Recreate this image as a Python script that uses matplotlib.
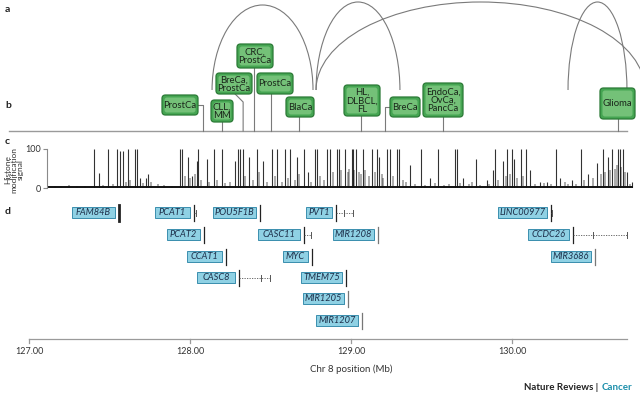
import matplotlib
matplotlib.use('Agg')
import matplotlib.pyplot as plt
from matplotlib.patches import FancyBboxPatch, Rectangle, Arc

plt.rcParams['font.family'] = ['Lato', 'DejaVu Sans']

# ---- data ----
# b: risk loci on chr 8 (Mb) and the cancers linked to them
locus_pos = [128.08, 128.20, 128.33, 128.40, 128.50, 128.68, 129.06, 129.21, 129.57, 130.66]
locus_label = ['ProstCa', 'CLL,\nMM', 'BreCa,\nProstCa', 'CRC,\nProstCa', 'ProstCa', 'BlaCa',
               'HL,\nDLBCL,\nFL', 'BreCa', 'EndoCa,\nOvCa,\nPancCa', 'Glioma']

# a: long range interactions (start, end in Mb)
loop_start = [128.137, 128.783, 128.783, 130.348]
loop_end = [128.764, 129.304, 130.826, 130.714]

# c: histone modification signal, main peaks (Mb, signal)
peak_pos = [127.404, 127.435, 127.491, 127.547, 127.565, 127.584, 127.615, 127.658, 127.671,
            127.689, 127.727, 127.739, 127.938, 127.950, 127.988, 128.012, 128.043, 128.050,
            128.106, 128.149, 128.199, 128.280, 128.298, 128.311, 128.329, 128.366, 128.416,
            128.453, 128.509, 128.540, 128.590, 128.621, 128.665, 128.708, 128.733, 128.776,
            128.789, 128.851, 128.870, 128.913, 128.925, 128.963, 129.006, 129.012, 129.031,
            129.075, 129.130, 129.161, 129.174, 129.224, 129.242, 129.286, 129.298, 129.366,
            129.435, 129.491, 129.540, 129.646, 129.658, 129.696, 129.776, 129.845, 129.882,
            129.894, 129.944, 129.969, 130.000, 130.012, 130.056, 130.087, 130.112, 130.174,
            130.217, 130.273, 130.298, 130.373, 130.429, 130.472, 130.528, 130.565, 130.596,
            130.621, 130.658, 130.671, 130.689, 130.714, 130.745]
peak_val = [100, 38, 100, 100, 95, 95, 100, 100, 100,
            25, 25, 35, 100, 100, 80, 30, 70, 100,
            75, 100, 100, 70, 100, 100, 100, 80, 100,
            70, 100, 100, 100, 100, 80, 100, 40, 100,
            100, 100, 100, 100, 100, 100, 100, 100, 100,
            100, 100, 100, 80, 100, 100, 100, 100, 60,
            100, 25, 100, 100, 100, 25, 75, 20, 45,
            100, 70, 100, 100, 75, 100, 100, 45, 15,
            15, 100, 25, 20, 100, 35, 65, 100, 80,
            100, 100, 100, 100, 40, 15]
# c: smaller peaks / background
minor_pos = [127.16, 127.20, 127.25, 127.30, 127.35, 127.46, 127.52, 127.60, 127.63, 127.71,
             127.76, 127.80, 127.84, 127.89, 127.97, 128.00, 128.03, 128.07, 128.12, 128.17,
             128.22, 128.25, 128.34, 128.39, 128.43, 128.48, 128.53, 128.57, 128.61, 128.65,
             128.68, 128.75, 128.81, 128.83, 128.89, 128.94, 128.98, 128.99, 129.02, 129.05,
             129.06, 129.09, 129.11, 129.15, 129.19, 129.20, 129.26, 129.32, 129.34, 129.40,
             129.46, 129.52, 129.58, 129.61, 129.68, 129.73, 129.75, 129.80, 129.86, 129.91,
             129.96, 129.99, 130.03, 130.07, 130.14, 130.20, 130.24, 130.33, 130.35, 130.40,
             130.45, 130.50, 130.55, 130.58, 130.61, 130.64, 130.65, 130.68, 130.70, 130.73]
minor_val = [6, 5, 7, 5, 6, 8, 10, 15, 20, 12,
             15, 10, 8, 6, 30, 25, 35, 20, 15, 20,
             12, 15, 30, 20, 40, 15, 30, 15, 25, 20,
             35, 15, 30, 20, 40, 45, 40, 50, 45, 40,
             35, 45, 30, 40, 35, 25, 30, 20, 15, 10,
             8, 12, 8, 10, 12, 10, 15, 8, 10, 20,
             30, 35, 25, 30, 10, 12, 10, 15, 10, 10,
             20, 25, 35, 40, 45, 50, 60, 55, 40, 10]

# d: genes (name, start, end in Mb, internal exon marks)
gene_name = ['FAM84B', 'PCAT1', 'POU5F1B', 'PVT1', 'PCAT2', 'CASC11', 'MIR1208', 'CCAT1',
             'MYC', 'CASC8', 'TMEM75', 'MIR1205', 'MIR1207', 'LINC00977', 'CCDC26', 'MIR3686']
gene_start = [127.559, 128.025, 128.435, 128.907, 128.087, 128.708, 129.168, 128.224,
              128.758, 128.304, 128.969, 128.981, 129.068, 130.242, 130.379, 130.516]
gene_end = [127.559, 128.040, 128.435, 129.012, 128.087, 128.752, 129.168, 128.224,
            128.758, 128.497, 128.969, 128.981, 129.068, 130.246, 130.714, 130.516]
gene_exons = [[], [], [], [128.955], [], [], [], [], [], [128.441], [], [], [], [], [130.503], []]

xticks = [127.0, 128.0, 129.0, 130.0]

# ---- layout (pixels) ----
W, H = 640, 395
PX = 1 / 161.0
X0 = 127.0 - 29 * PX
X1 = X0 + W * PX


def px2mb(p):
    return X0 + p * PX


box_rect = [(162, 95, 36, 20), (211, 100, 22, 22), (216, 73, 36, 21), (237, 44, 36, 24),
            (257, 73, 36, 21), (286, 97, 28, 20), (344, 85, 36, 31), (390, 97, 30, 20),
            (423, 83, 40, 34), (600, 88, 35, 31)]
base_y = 131
gene_row = [0, 0, 0, 0, 1, 1, 1, 2, 2, 3, 3, 4, 5, 0, 1, 2]
gene_box_w = [43, 35, 43, 26, 33, 42, 41, 35, 25, 38, 41, 41, 42, 49, 41, 40]
row_top = [207, 229, 251, 272, 293, 315]
row_h = 11

fig = plt.figure(figsize=(6.4, 3.95), dpi=100)
ax = fig.add_axes([0, 0, 1, 1])
ax.set_xlim(X0, X1)
ax.set_ylim(H, 0)
ax.axis('off')

line_c = '#7a7a7a'

# panel letters
for lab, y in zip('abcd', [9, 105, 141, 212]):
    ax.text(px2mb(5), y, lab, fontsize=7.5, fontweight='bold', va='center', color='#222222')

# a: arcs
for s, e, top in zip(loop_start, loop_end, [5, 2, 2, 2]):
    ax.add_patch(Arc(((s + e) / 2, 90), e - s, 2 * (90 - top), theta1=180, theta2=360,
                     color=line_c, lw=0.8))

# b: baseline, connectors and boxes
ax.plot([px2mb(9), px2mb(627)], [base_y, base_y], color='#9a9a9a', lw=1.0)
for i, (pos, lab) in enumerate(zip(locus_pos, locus_label)):
    l, t, w, h = box_rect[i]
    bl, br = px2mb(l), px2mb(l + w)
    if pos > br:
        ax.plot([br, pos, pos], [t + h / 2, t + h / 2, base_y], color=line_c, lw=0.8)
    elif pos < bl:
        ax.plot([bl, pos, pos], [t + h / 2, t + h / 2, base_y], color=line_c, lw=0.8)
    elif lab == 'BreCa,\nProstCa':
        ax.plot([pos - 8 * PX, pos, pos], [t + h, t + h + 8, base_y], color=line_c, lw=0.8)
    else:
        ax.plot([pos, pos], [t + h, base_y], color=line_c, lw=0.8)
    ax.add_patch(FancyBboxPatch((bl, t), w * PX, h, boxstyle='round,pad=0,rounding_size=%f' % (3.5 * PX),
                                mutation_aspect=1 / PX, fc='#45a552', ec='#2b7a36', lw=0.9, zorder=3))
    ax.add_patch(FancyBboxPatch((bl + 2.5 * PX, t + 2.5), (w - 5) * PX, h - 5,
                                boxstyle='round,pad=0,rounding_size=%f' % (2.5 * PX),
                                mutation_aspect=1 / PX, fc='#74c178', ec='none', zorder=3))
    ax.text((bl + br) / 2, t + h / 2 + 0.5, lab, ha='center', va='center', fontsize=6.8,
            color='#1a261a', linespacing=0.92, zorder=4)

# c: histone signal
sax = fig.add_axes([47 / W, (H - 188) / H, (W - 47) / W, 39 / H])
sax.set_xlim(px2mb(47), X1)
sax.set_ylim(0, 100)
sax.patch.set_alpha(0)
for side in ['top', 'right', 'bottom']:
    sax.spines[side].set_visible(False)
sax.spines['left'].set_color('#8a8a8a')
sax.spines['left'].set_linewidth(0.8)
sax.set_xticks([])
sax.set_yticks([0, 100])
sax.set_yticklabels(['0', '100'])
sax.tick_params(axis='y', length=3, width=0.8, color='#8a8a8a', labelsize=6.5,
                labelcolor='#333333', pad=1)
sax.vlines(minor_pos, 0, minor_val, colors='#000000', alpha=0.35, lw=1.3)
sax.vlines(peak_pos, 0, peak_val, colors='#000000', alpha=0.8, lw=0.8)
sax.plot([px2mb(48), px2mb(632)], [1.5, 1.5], color='#111111', lw=1.4, clip_on=False)
ax.text(px2mb(14), 170, 'Histone\nmodification\nsignal', rotation=90, ha='center', va='center',
        fontsize=6.0, color='#333333', linespacing=0.9)

# d: genes
for i, name in enumerate(gene_name):
    t = row_top[gene_row[i]]
    s, e = gene_start[i], gene_end[i]
    right = s - 4 * PX
    w = gene_box_w[i] * PX
    ax.add_patch(Rectangle((right - w + 1.2 * PX, t + 1.2), w, row_h, fc='#9fb3bb', ec='none', zorder=2))
    ax.add_patch(Rectangle((right - w, t), w, row_h, fc='#8fd1e4', ec='#3b8fae', lw=0.7, zorder=3))
    ax.text(right - w / 2, t + row_h / 2 + 0.3, name, ha='center', va='center', fontsize=6.7,
            style='italic', color='#1d2f4a', zorder=4)
    mid = t + row_h / 2
    thick = 2.0 if name == 'FAM84B' else 0.9
    col = '#222222' if not name.startswith('MIR') else '#777777'
    ax.plot([s, s], [t - 2, t + row_h + 3], color=col, lw=thick)
    if e > s:
        ax.plot([s, e], [mid, mid], color='#555555', lw=0.6, ls=(0, (1.5, 1.5)))
        for x in gene_exons[i] + [e]:
            ax.plot([x, x], [mid - 3, mid + 3], color='#555555', lw=0.7)

# x axis
ax.plot([xticks[0], px2mb(627)], [339, 339], color='#9a9a9a', lw=0.9)
for xt in xticks:
    ax.plot([xt, xt], [339, 343], color='#9a9a9a', lw=0.9)
    ax.text(xt, 352, '%.2f' % xt, ha='center', va='center', fontsize=6.5, color='#333333')
ax.text(129.0, 369, 'Chr 8 position (Mb)', ha='center', va='center', fontsize=7, color='#333333')

# credit line
fig.text(632 / W, 1 - 388 / H, 'Cancer', ha='right', va='center', fontsize=7,
         fontweight='bold', color='#1c8fab')
fig.text(601 / W, 1 - 388 / H, 'Nature Reviews | ', ha='right', va='center', fontsize=7,
         fontweight='bold', color='#222222')

fig.savefig('out.png', dpi=100)
